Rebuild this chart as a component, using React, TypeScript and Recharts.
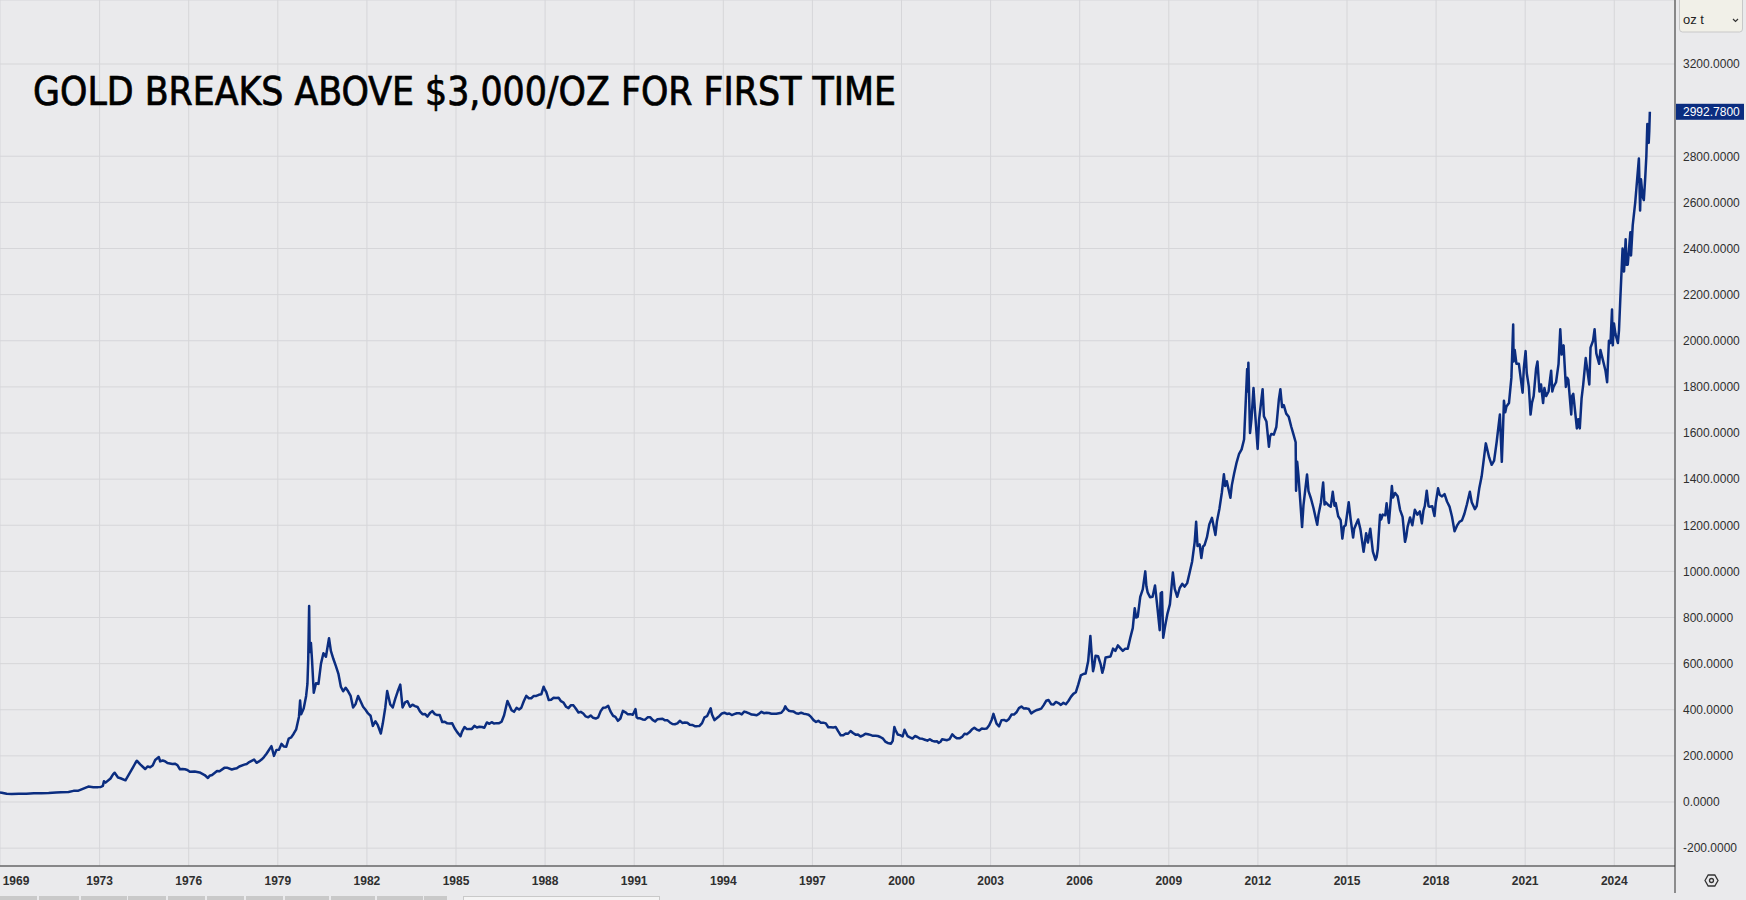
import { LineChart, Line, XAxis, YAxis, CartesianGrid, ReferenceLine } from "recharts";

// gold spot, USD per troy ounce ("YYYY-MM" = mid-month)
const gold1969to1979: [string, number][] = [
  ["1969-08-25", 41.2], ["1969-09", 40.5], ["1969-11", 35.5],
  ["1970-01", 34.9], ["1970-04", 35.6], ["1970-07", 35.3], ["1970-10", 37.5],
  ["1971-01", 37.9], ["1971-04", 39.0], ["1971-07", 40.9], ["1971-09", 42.0], ["1971-12", 43.5],
  ["1972-02", 48.3], ["1972-04", 49.0], ["1972-06", 58.0], ["1972-08", 67.0], ["1972-10", 64.0], ["1972-12", 64.5],
  ["1973-01", 65], ["1973-02-10", 70], ["1973-02-23", 90], ["1973-03", 84], ["1973-05", 102], ["1973-06", 120],
  ["1973-07-05", 127], ["1973-08", 106], ["1973-09", 103], ["1973-11", 94], ["1973-12", 112],
  ["1974-02", 150], ["1974-03", 168], ["1974-04-03", 179], ["1974-05", 163], ["1974-06", 153], ["1974-07", 143],
  ["1974-08", 154], ["1974-09", 151], ["1974-10", 158], ["1974-11", 182], ["1974-12-30", 195],
  ["1975-01", 176], ["1975-02", 180], ["1975-03", 177], ["1975-04", 169], ["1975-05", 167], ["1975-06", 165],
  ["1975-07", 166], ["1975-08", 160], ["1975-09", 142], ["1975-10", 143], ["1975-11", 142], ["1975-12", 139],
  ["1976-01", 131], ["1976-03", 132], ["1976-05", 128], ["1976-07", 117], ["1976-08-25", 104], ["1976-09", 114],
  ["1976-10", 117], ["1976-12", 134],
  ["1977-01", 133], ["1977-03", 148], ["1977-04", 149], ["1977-06", 141], ["1977-07", 144], ["1977-08", 146],
  ["1977-09", 154], ["1977-11", 162], ["1977-12", 165],
  ["1978-01", 173], ["1978-03", 184], ["1978-04", 170], ["1978-05", 176], ["1978-06", 184], ["1978-07", 195],
  ["1978-08", 209], ["1978-10", 242], ["1978-11", 200], ["1978-12", 226],
  ["1979-01", 227], ["1979-02", 252], ["1979-03", 241], ["1979-04", 240], ["1979-05", 275], ["1979-06", 280],
  ["1979-07", 296], ["1979-08", 315], ["1979-09-18", 370], ["1979-10-02", 440], ["1979-10-15", 380],
  ["1979-11", 405], ["1979-12", 460], ["1979-12-31", 512],
];

const gold1980to1989: [string, number][] = [
  ["1980-01-10", 620], ["1980-01-21", 850], ["1980-01-28", 650], ["1980-02-12", 690], ["1980-02-25", 620],
  ["1980-03-18", 474], ["1980-04", 515], ["1980-05", 512], ["1980-06", 600], ["1980-07", 645], ["1980-08", 630],
  ["1980-09-22", 710], ["1980-10", 655], ["1980-11", 620], ["1980-12", 590],
  ["1981-01", 557], ["1981-02", 500], ["1981-03", 480], ["1981-04", 495], ["1981-05", 480], ["1981-06", 460],
  ["1981-07", 410], ["1981-08", 425], ["1981-09", 460], ["1981-10", 437], ["1981-11", 413], ["1981-12", 400],
  ["1982-01", 384], ["1982-02", 374], ["1982-03", 330], ["1982-04", 350], ["1982-05", 333], ["1982-06-21", 297],
  ["1982-07", 340], ["1982-08", 410], ["1982-09-07", 481], ["1982-10", 423], ["1982-11", 410], ["1982-12", 447],
  ["1983-01", 480], ["1983-02-15", 509], ["1983-03", 410], ["1983-04", 432], ["1983-05", 437], ["1983-06", 413],
  ["1983-07", 422], ["1983-08", 416], ["1983-09", 412], ["1983-10", 393], ["1983-11", 381], ["1983-12", 382],
  ["1984-01", 370], ["1984-02", 386], ["1984-03", 394], ["1984-04", 381], ["1984-05", 377], ["1984-06", 377],
  ["1984-07", 347], ["1984-08", 348], ["1984-09", 341], ["1984-10", 340], ["1984-11", 341], ["1984-12", 320],
  ["1985-01", 303], ["1985-02-25", 285], ["1985-03", 304], ["1985-04", 325], ["1985-05", 316], ["1985-06", 317],
  ["1985-07", 317], ["1985-08", 330], ["1985-09", 323], ["1985-10", 326], ["1985-11", 325], ["1985-12", 322],
  ["1986-01", 345], ["1986-02", 339], ["1986-03", 346], ["1986-04", 340], ["1986-05", 342], ["1986-06", 342],
  ["1986-07", 348], ["1986-08", 376], ["1986-09-25", 438], ["1986-10", 423], ["1986-11", 398], ["1986-12", 391],
  ["1987-01", 408], ["1987-02", 401], ["1987-03", 409], ["1987-04", 438], ["1987-05", 460], ["1987-06", 450],
  ["1987-07", 450], ["1987-08", 460], ["1987-09", 460], ["1987-10", 465], ["1987-11", 467], ["1987-12-14", 500],
  ["1987-12-31", 486],
  ["1988-01", 477], ["1988-02", 442], ["1988-03", 443], ["1988-04", 452], ["1988-05", 451], ["1988-06", 452],
  ["1988-07", 437], ["1988-08", 431], ["1988-09", 413], ["1988-10", 407], ["1988-11", 420], ["1988-12", 419],
  ["1989-01", 404], ["1989-02", 388], ["1989-03", 391], ["1989-04", 384], ["1989-05", 371], ["1989-06", 367],
  ["1989-07", 375], ["1989-08", 365], ["1989-09", 362], ["1989-10", 367], ["1989-11", 394], ["1989-12", 409],
];

const gold1990to2004: [string, number][] = [
  ["1990-01", 410], ["1990-02", 417], ["1990-03", 393], ["1990-04", 374], ["1990-05", 369], ["1990-06", 352],
  ["1990-07", 362], ["1990-08", 395], ["1990-09", 389], ["1990-10", 380], ["1990-11", 381], ["1990-12", 378],
  ["1991-01-17", 403], ["1991-01-31", 367], ["1991-02", 363], ["1991-03", 363], ["1991-04", 358], ["1991-05", 357],
  ["1991-06", 367], ["1991-07", 368], ["1991-08", 356], ["1991-09", 349], ["1991-10", 359], ["1991-11", 360],
  ["1991-12", 361],
  ["1992-01", 354], ["1992-02", 354], ["1992-03", 345], ["1992-04", 338], ["1992-05", 337], ["1992-06", 341],
  ["1992-07", 352], ["1992-08", 343], ["1992-09", 345], ["1992-10", 344], ["1992-11", 335], ["1992-12", 334],
  ["1993-01", 329], ["1993-02", 329], ["1993-03", 330], ["1993-04", 342], ["1993-05", 367], ["1993-06", 372],
  ["1993-07-30", 406], ["1993-08", 379], ["1993-09", 355], ["1993-10", 364], ["1993-11", 373], ["1993-12", 384],
  ["1994-01", 387], ["1994-02", 382], ["1994-03", 384], ["1994-04", 377], ["1994-05", 381], ["1994-06", 385],
  ["1994-07", 385], ["1994-08", 380], ["1994-09", 392], ["1994-10", 389], ["1994-11", 384], ["1994-12", 379],
  ["1995-01", 378], ["1995-02", 376], ["1995-03", 382], ["1995-04", 391], ["1995-05", 385], ["1995-06", 387],
  ["1995-07", 386], ["1995-08", 383], ["1995-09", 383], ["1995-10", 383], ["1995-11", 385], ["1995-12", 387],
  ["1996-01", 400], ["1996-02-02", 415], ["1996-02-20", 404], ["1996-03", 396], ["1996-04", 393], ["1996-05", 392],
  ["1996-06", 385], ["1996-07", 383], ["1996-08", 387], ["1996-09", 383], ["1996-10", 381], ["1996-11", 378],
  ["1996-12", 369],
  ["1997-01", 355], ["1997-02", 347], ["1997-03", 352], ["1997-04", 344], ["1997-05", 344], ["1997-06", 341],
  ["1997-07", 324], ["1997-08", 324], ["1997-09", 323], ["1997-10", 325], ["1997-11", 306], ["1997-12", 289],
  ["1998-01", 289], ["1998-02", 297], ["1998-03", 296], ["1998-04", 308], ["1998-05", 299], ["1998-06", 292],
  ["1998-07", 293], ["1998-08", 284], ["1998-09", 289], ["1998-10", 296], ["1998-11", 294], ["1998-12", 291],
  ["1999-01", 287], ["1999-02", 287], ["1999-03", 286], ["1999-04", 282], ["1999-05", 276], ["1999-06", 262],
  ["1999-07", 256], ["1999-08-25", 253], ["1999-09", 265], ["1999-10-05", 325], ["1999-10-20", 311],
  ["1999-11", 293], ["1999-12", 290],
  ["2000-01", 284], ["2000-02-07", 313], ["2000-02-25", 300], ["2000-03", 286], ["2000-04", 280], ["2000-05", 275],
  ["2000-06", 286], ["2000-07", 282], ["2000-08", 275], ["2000-09", 274], ["2000-10", 270], ["2000-11", 266],
  ["2000-12", 272],
  ["2001-01", 265], ["2001-02", 262], ["2001-03", 263], ["2001-04-02", 256], ["2001-04-25", 261], ["2001-05", 272],
  ["2001-06", 270], ["2001-07", 268], ["2001-08", 273], ["2001-09-17", 293], ["2001-10", 283], ["2001-11", 276],
  ["2001-12", 276],
  ["2002-01", 282], ["2002-02", 296], ["2002-03", 294], ["2002-04", 302], ["2002-05", 314], ["2002-06", 322],
  ["2002-07", 314], ["2002-08", 310], ["2002-09", 319], ["2002-10", 317], ["2002-11", 319], ["2002-12", 333],
  ["2003-01", 357], ["2003-02-05", 382], ["2003-03", 340], ["2003-04", 328], ["2003-05", 355], ["2003-06", 356],
  ["2003-07", 351], ["2003-08", 360], ["2003-09", 379], ["2003-10", 379], ["2003-11", 389], ["2003-12", 407],
  ["2004-01", 414], ["2004-02", 405], ["2004-03", 406], ["2004-04", 403], ["2004-05", 384], ["2004-06", 392],
  ["2004-07", 398], ["2004-08", 401], ["2004-09", 405], ["2004-10", 420], ["2004-11", 439], ["2004-12", 442],
];

const gold2005to2014: [string, number][] = [
  ["2005-01", 424], ["2005-02", 423], ["2005-03", 434], ["2005-04", 429], ["2005-05", 421], ["2005-06", 430],
  ["2005-07", 424], ["2005-08", 438], ["2005-09", 456], ["2005-10", 469], ["2005-11", 476], ["2005-12", 510],
  ["2006-01", 549], ["2006-02", 555], ["2006-03", 557], ["2006-04", 610], ["2006-05-12", 720], ["2006-05-25", 655],
  ["2006-06-14", 567], ["2006-06-28", 590], ["2006-07", 634], ["2006-08", 632], ["2006-09", 598],
  ["2006-10-06", 560], ["2006-10-25", 585], ["2006-11", 627], ["2006-12", 629],
  ["2007-01", 631], ["2007-02", 665], ["2007-03", 655], ["2007-04", 679], ["2007-05", 667], ["2007-06", 655],
  ["2007-07", 665], ["2007-08", 665], ["2007-09", 712], ["2007-10", 754], ["2007-11-08", 840], ["2007-11-25", 800],
  ["2007-12", 803],
  ["2008-01", 889], ["2008-02", 922], ["2008-03-17", 1000], ["2008-03-31", 935], ["2008-04", 909], ["2008-05", 888],
  ["2008-06", 890], ["2008-07", 939], ["2008-08", 839], ["2008-09-11", 745], ["2008-09-23", 905],
  ["2008-10-09", 910], ["2008-10-24", 712], ["2008-11", 760], ["2008-12", 816],
  ["2009-01", 858], ["2009-02-20", 995], ["2009-03", 924], ["2009-04", 890], ["2009-05", 928], ["2009-06", 946],
  ["2009-07", 934], ["2009-08", 949], ["2009-09", 996], ["2009-10", 1043], ["2009-11", 1127], ["2009-12-03", 1215],
  ["2009-12-20", 1110],
  ["2010-01", 1117], ["2010-02-05", 1058], ["2010-02-25", 1108], ["2010-03", 1113], ["2010-04", 1148],
  ["2010-05", 1205], ["2010-06", 1232], ["2010-07-28", 1158], ["2010-08", 1215], ["2010-09", 1271],
  ["2010-10", 1342], ["2010-11-09", 1421], ["2010-11-25", 1370], ["2010-12", 1391],
  ["2011-01-28", 1319], ["2011-02", 1374], ["2011-03", 1424], ["2011-04", 1473], ["2011-05", 1510],
  ["2011-06", 1529], ["2011-07", 1572], ["2011-08-22", 1877], ["2011-08-30", 1780], ["2011-09-06", 1905],
  ["2011-09-26", 1600], ["2011-10", 1665], ["2011-11-08", 1795], ["2011-11-25", 1700], ["2011-12-29", 1531],
  ["2012-01", 1656], ["2012-02-28", 1790], ["2012-03", 1673], ["2012-04", 1650], ["2012-05-16", 1540],
  ["2012-05-30", 1585], ["2012-06", 1596], ["2012-07", 1593], ["2012-08", 1626], ["2012-09", 1744],
  ["2012-10-04", 1790], ["2012-10-25", 1712], ["2012-11", 1721], ["2012-12", 1684],
  ["2013-01", 1670], ["2013-02", 1627], ["2013-03", 1593], ["2013-04-10", 1560], ["2013-04-15", 1350],
  ["2013-04-29", 1475], ["2013-05", 1414], ["2013-06-28", 1192], ["2013-07", 1286], ["2013-08-28", 1420],
  ["2013-09", 1348], ["2013-10", 1316], ["2013-11", 1275], ["2013-12-31", 1202],
  ["2014-01", 1244], ["2014-02", 1300], ["2014-03-14", 1385], ["2014-03-31", 1290], ["2014-04", 1299],
  ["2014-05", 1288], ["2014-06", 1280], ["2014-07-10", 1345], ["2014-07-31", 1285], ["2014-08", 1296],
  ["2014-09", 1239], ["2014-10", 1222], ["2014-11-05", 1142], ["2014-11-25", 1195], ["2014-12", 1200],
];

const gold2015to2025: [string, number][] = [
  ["2015-01-22", 1300], ["2015-02", 1227], ["2015-03-17", 1147], ["2015-03-31", 1185], ["2015-04", 1198],
  ["2015-05-18", 1225], ["2015-06", 1182], ["2015-07-24", 1085], ["2015-08-24", 1165], ["2015-09", 1125],
  ["2015-10-14", 1185], ["2015-11", 1086], ["2015-12-17", 1050], ["2015-12-31", 1062],
  ["2016-01", 1097], ["2016-02-11", 1245], ["2016-02-25", 1225], ["2016-03", 1246], ["2016-04", 1243],
  ["2016-05-02", 1295], ["2016-05-30", 1210], ["2016-06", 1276], ["2016-07-06", 1370], ["2016-07-20", 1320],
  ["2016-08", 1340], ["2016-09", 1326], ["2016-10", 1267], ["2016-11", 1236], ["2016-12-15", 1128],
  ["2016-12-30", 1150],
  ["2017-01", 1192], ["2017-02", 1234], ["2017-03-15", 1200], ["2017-04", 1267], ["2017-05", 1246],
  ["2017-06", 1260], ["2017-07-10", 1208], ["2017-07-30", 1265], ["2017-08", 1283], ["2017-09-08", 1350],
  ["2017-09-30", 1283], ["2017-10", 1280], ["2017-11", 1282], ["2017-12-12", 1240], ["2017-12-29", 1300],
  ["2018-01-25", 1360], ["2018-02", 1331], ["2018-03", 1325], ["2018-04", 1335], ["2018-05", 1303],
  ["2018-06", 1281], ["2018-07", 1238], ["2018-08-16", 1174], ["2018-09", 1198], ["2018-10", 1215],
  ["2018-11", 1221], ["2018-12", 1250],
  ["2019-01", 1291], ["2019-02-20", 1345], ["2019-03", 1300], ["2019-04-23", 1270], ["2019-05", 1283],
  ["2019-06", 1359], ["2019-07", 1412], ["2019-08", 1500], ["2019-09-04", 1555], ["2019-10", 1494],
  ["2019-11", 1462], ["2019-12", 1480],
  ["2020-01", 1560], ["2020-02-24", 1680], ["2020-03-19", 1475], ["2020-03-31", 1590], ["2020-04-14", 1740],
  ["2020-04-30", 1690], ["2020-05", 1715], ["2020-06", 1730], ["2020-07", 1840], ["2020-08-06", 2070],
  ["2020-08-11", 1910], ["2020-08-25", 1960], ["2020-09", 1900], ["2020-10", 1900], ["2020-11-30", 1775],
  ["2020-12", 1880],
  ["2021-01-06", 1955], ["2021-01-20", 1860], ["2021-02", 1800], ["2021-03-08", 1680], ["2021-03-25", 1730],
  ["2021-04", 1760], ["2021-05", 1880], ["2021-06-01", 1910], ["2021-06-25", 1780], ["2021-07", 1810],
  ["2021-08-09", 1730], ["2021-08-25", 1795], ["2021-09", 1760], ["2021-10", 1780], ["2021-11-16", 1870],
  ["2021-11-30", 1780], ["2021-12", 1800],
  ["2022-01", 1820], ["2022-02", 1900], ["2022-03-08", 2050], ["2022-03-25", 1940], ["2022-04-18", 1980],
  ["2022-04-30", 1900], ["2022-05-16", 1800], ["2022-05-31", 1840], ["2022-06", 1830], ["2022-07-21", 1680],
  ["2022-07-31", 1760], ["2022-08", 1770], ["2022-09-28", 1620], ["2022-10", 1660], ["2022-11-03", 1620],
  ["2022-11-25", 1750], ["2022-12", 1810],
  ["2023-01", 1925], ["2023-02-28", 1810], ["2023-03", 1970], ["2023-04", 2000], ["2023-05-04", 2050],
  ["2023-05-25", 1945], ["2023-06-29", 1900], ["2023-07", 1960], ["2023-08", 1915], ["2023-09", 1870],
  ["2023-10-05", 1820], ["2023-10-27", 2000], ["2023-11", 1990], ["2023-12-04", 2135], ["2023-12-13", 1980],
  ["2023-12-28", 2075],
  ["2024-01", 2030], ["2024-02-14", 1990], ["2024-02-28", 2045], ["2024-03", 2180], ["2024-04-12", 2400],
  ["2024-04-30", 2300], ["2024-05-20", 2440], ["2024-05-31", 2330], ["2024-06", 2330], ["2024-07-17", 2470],
  ["2024-07-25", 2370], ["2024-08", 2500], ["2024-09", 2600], ["2024-10-30", 2790], ["2024-11-14", 2565],
  ["2024-11-25", 2700], ["2024-12", 2625], ["2024-12-30", 2610],
  ["2025-01", 2700], ["2025-01-30", 2800], ["2025-02-11", 2940], ["2025-02-28", 2858], ["2025-03-07", 2910],
  ["2025-03-14", 2992.78],
];

const yearTicks = [1969, 1973, 1976, 1979, 1982, 1985, 1988, 1991, 1994, 1997, 2000, 2003, 2006, 2009, 2012, 2015, 2018, 2021, 2024];
const priceTicks = [-200, 0, 200, 400, 600, 800, 1000, 1200, 1400, 1600, 1800, 2000, 2200, 2400, 2600, 2800, 3200];
const lastPrice = 2992.78;
const title = "GOLD BREAKS ABOVE $3,000/OZ FOR FIRST TIME";

const W = 1746;
const H = 900;
const BG = "#eaeaec";
const GRID = "#d6d6d9";
const AXIS = "#2e2e2e";
const NAVY = "#0b2d80";
const TEXT = "#2f2f2f";
const FONT = "'Liberation Sans', Arial, sans-serif";

function toYear(d: string) {
  const [y, m, day] = d.split("-").map(Number);
  const start = Date.UTC(y, 0, 1);
  const len = Date.UTC(y + 1, 0, 1) - start;
  return y + (Date.UTC(y, m - 1, day || 15) - start) / len;
}

const data = [...gold1969to1979, ...gold1980to1989, ...gold1990to2004, ...gold2005to2014, ...gold2015to2025].map(
  ([d, price]) => ({ t: toYear(d), price })
);

const YearTick = (props: any) => {
  const { x, y, payload } = props;
  return (
    <text x={Math.max(x, 16)} y={y} dy="0.71em" textAnchor="middle" fill={TEXT} fontSize={12} fontWeight={700} fontFamily={FONT}>
      {payload.value}
    </text>
  );
};

const PriceTag = (props: any) => {
  const { x, y, width } = props.viewBox;
  const left = x + width + 1;
  return (
    <g>
      <rect x={left} y={y - 8} width={68} height={16} fill={NAVY} />
      <text x={left + 7} y={y} dy="0.355em" fill="#ffffff" fontSize={12} fontFamily={FONT}>
        {lastPrice.toFixed(4)}
      </text>
    </g>
  );
};

const tabs = [[0, 37], [39, 79], [81, 127], [128, 166], [168, 205], [207, 244], [246, 283], [285, 329], [331, 375], [377, 423], [424, 447]];

export default function App() {
  return (
    <div style={{ position: "absolute", left: 0, top: 0, width: W, height: H, background: BG, overflow: "hidden" }}>
      <LineChart width={W} height={H} data={data} margin={{ top: 0, right: 0, bottom: 0, left: 0 }}>
        <CartesianGrid stroke={GRID} />
        <XAxis
          dataKey="t"
          type="number"
          domain={[1969.646, 2026.044]}
          allowDataOverflow
          ticks={yearTicks}
          interval={0}
          height={34}
          tickLine={false}
          tickMargin={4}
          axisLine={{ stroke: AXIS }}
          tick={(p: any) => <YearTick {...p} />}
        />
        <YAxis
          orientation="right"
          type="number"
          width={71}
          domain={[-277.5, 3477.5]}
          allowDataOverflow
          ticks={priceTicks}
          interval={0}
          tickLine={false}
          axisLine={{ stroke: AXIS }}
          tick={{ fill: TEXT, fontSize: 12, fontFamily: FONT }}
          tickFormatter={(v: number) => v.toFixed(4)}
        />
        <ReferenceLine y={lastPrice} stroke="none" label={<PriceTag />} />
        <Line
          dataKey="price"
          type="linear"
          stroke={NAVY}
          strokeWidth={2.5}
          strokeLinejoin="round"
          dot={false}
          activeDot={false}
          isAnimationActive={false}
        />
      </LineChart>
      <svg width={W} height={H} style={{ position: "absolute", left: 0, top: 0, pointerEvents: "none" }}>
        <text
          x={33}
          y={105}
          textLength={863}
          lengthAdjust="spacingAndGlyphs"
          fontSize={39}
          fontFamily="'DejaVu Sans Condensed', 'DejaVu Sans', sans-serif"
          style={{ fontStretch: "condensed" }}
          fill="#000000"
          stroke="#000000"
          strokeWidth={0.7}
        >
          {title}
        </text>
        <rect x={1679.5} y={-3} width={63} height={35} rx={3} fill="#f1f0e8" stroke="#c8c8c8" />
        <text x={1683} y={24} fontSize={13} fontFamily={FONT} fill="#222">oz t</text>
        <polyline points="1733,19 1735.5,21.5 1738,19" fill="none" stroke="#333" strokeWidth={1.2} />
        <line x1={1675} y1={866} x2={1675} y2={893} stroke={AXIS} />
        <polygon
          points="1705,880.5 1708.2,875 1714.8,875 1718,880.5 1714.8,886 1708.2,886"
          fill="none"
          stroke="#333"
          strokeWidth={1.3}
        />
        <circle cx={1711.5} cy={880.5} r={2} fill="none" stroke="#333" strokeWidth={1.3} />
        {tabs.map(([a, b]) => (
          <rect key={a} x={a} y={896} width={b - a} height={6} fill="#c9c9c9" />
        ))}
        <rect x={463.5} y={896.5} width={196} height={8} fill="#f4f4f4" stroke="#c9c9c9" />
      </svg>
    </div>
  );
}
